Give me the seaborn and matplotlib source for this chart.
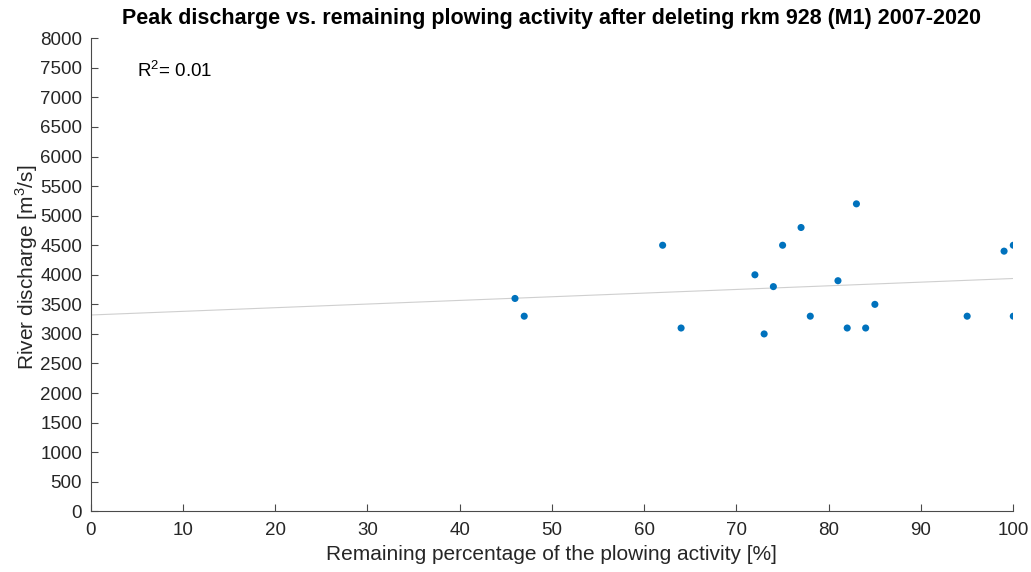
import matplotlib
matplotlib.use("Agg")
import matplotlib.pyplot as plt
import seaborn as sns
import pandas as pd

remaining_pct = [46, 47, 62, 64, 72, 73, 74, 75, 77, 78, 81, 82, 83, 84, 85, 95, 99, 100, 100]
discharge = [3600, 3300, 4500, 3100, 4000, 3000, 3800, 4500, 4800, 3300, 3900, 3100, 5200, 3100, 3500, 3300, 4400, 4500, 3300]
x_ticks = list(range(0, 101, 10))
y_ticks = list(range(0, 8001, 500))
r2_text = "R$^2$= 0.01"
title = "Peak discharge vs. remaining plowing activity after deleting rkm 928 (M1) 2007-2020"

df = pd.DataFrame({"x": remaining_pct, "y": discharge})

sns.set_theme(style="white")
plt.rcParams['font.family'] = ['Liberation Sans', 'DejaVu Sans']
plt.rcParams['mathtext.fontset'] = 'custom'
plt.rcParams['mathtext.rm'] = 'Liberation Sans'

axis_col = "#4a4a4a"
text_col = "#262626"

fig = plt.figure(figsize=(10.31, 5.72), dpi=100)
ax = fig.add_axes([90.5/1031, 1 - 511.3/572, (1013.3-90.5)/1031, (511.3-38.3)/572])
ax.set_xlim(0, 100)
ax.set_ylim(0, 8000)

sns.regplot(data=df, x="x", y="y", ax=ax, ci=None, truncate=False,
            scatter_kws=dict(s=26, color="#0072BD", alpha=1, edgecolor="none", zorder=3),
            line_kws=dict(color="#cfcfcf", lw=0.8, zorder=2))

ax.set_xlim(0, 100)
ax.set_ylim(0, 8000)
ax.set_xticks(x_ticks)
ax.set_yticks(y_ticks)
ax.tick_params(bottom=True, left=True, top=False, right=False,
               direction="in", length=5, width=0.8, colors=axis_col,
               labelcolor=text_col, labelsize=13.5)
ax.tick_params(axis="x", pad=8)
ax.tick_params(axis="y", pad=6)
for s in ["top", "right"]:
    ax.spines[s].set_visible(False)
for s in ["left", "bottom"]:
    ax.spines[s].set_color(axis_col)
    ax.spines[s].set_linewidth(0.8)

ax.set_xlabel("Remaining percentage of the plowing activity [%]", fontsize=15, color=text_col, labelpad=4)
ax.set_ylabel("River discharge [m$^3$/s]", fontsize=15, color=text_col, labelpad=0)
ax.yaxis.set_label_coords(-0.055, 0.515)
ax.set_title(title, fontsize=15.5, fontweight="bold", color="black", pad=10)
ax.text(5, 7450, r2_text, fontsize=13.5, color="black", va="center", ha="left")

fig.savefig("out.png", dpi=100)
